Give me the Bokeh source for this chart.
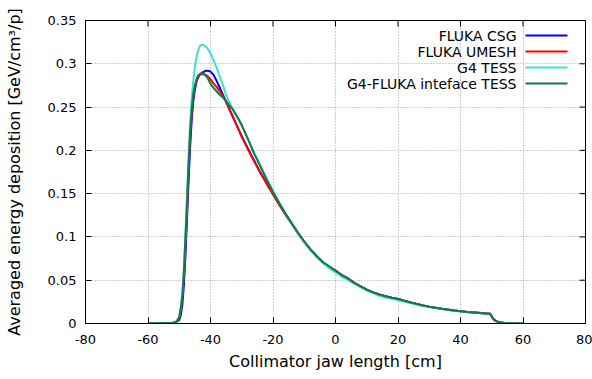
import math
from bokeh.plotting import figure
from bokeh.models import (Range1d, FixedTicker, Label, BoxAnnotation)
from bokeh.embed import file_html
from bokeh.resources import INLINE

# ---------------- data ----------------
x_cm = [-60, -55, -52, -51, -50.5,
        -50, -49.5, -49, -48.5, -48,
        -47.5, -47, -46.5, -46, -45.5,
        -45, -44.5, -44, -43.5, -43,
        -42.5, -42, -41.5, -41, -40,
        -39, -38, -37, -36, -35,
        -34, -33, -32, -31, -30,
        -28, -26, -24, -22, -20,
        -18, -16, -14, -12, -10,
        -8, -6, -4, -2, 0,
        2, 4, 6, 8, 10,
        12, 14, 16, 18, 20,
        22, 24, 26, 28, 30,
        32, 34, 36, 38, 40,
        42, 44, 46, 48, 49.5,
        50, 50.5, 51, 52, 53,
        54, 55, 56, 57, 58,
        60]

fluka_csg = [0, 0.0005, 0.001, 0.0015, 0.003,
             0.004, 0.010, 0.022, 0.045, 0.080,
             0.122, 0.166, 0.205, 0.236, 0.257,
             0.270, 0.279, 0.284, 0.287, 0.289,
             0.290, 0.291, 0.292, 0.292, 0.291,
             0.287, 0.280, 0.272, 0.264, 0.256,
             0.248, 0.240, 0.232, 0.224, 0.216,
             0.202, 0.188, 0.174, 0.162, 0.150,
             0.138, 0.126, 0.115, 0.104, 0.094,
             0.085, 0.077, 0.070, 0.065, 0.061,
             0.056, 0.052, 0.047, 0.043, 0.039,
             0.036, 0.0335, 0.0315, 0.0298, 0.0283,
             0.0263, 0.0244, 0.0226, 0.0209, 0.0195,
             0.0182, 0.0171, 0.0161, 0.0151, 0.0142,
             0.0135, 0.0129, 0.0123, 0.0117, 0.0113,
             0.0078, 0.0052, 0.0033, 0.0019, 0.0011,
             0.0006, 0.0004, 0.0002, 0.0001, 0,
             0]

fluka_umesh = [0, 0.0005, 0.001, 0.002, 0.0035,
               0.006, 0.016, 0.030, 0.055, 0.092,
               0.132, 0.178, 0.215, 0.243, 0.262,
               0.273, 0.280, 0.285, 0.287, 0.288,
               0.288, 0.288, 0.287, 0.286, 0.282,
               0.277, 0.273, 0.268, 0.263, 0.256,
               0.248, 0.240, 0.232, 0.224, 0.216,
               0.201, 0.187, 0.174, 0.161, 0.149,
               0.137, 0.126, 0.115, 0.104, 0.094,
               0.085, 0.077, 0.070, 0.065, 0.061,
               0.056, 0.052, 0.047, 0.043, 0.039,
               0.036, 0.0335, 0.0314, 0.0297, 0.0282,
               0.0262, 0.0243, 0.0225, 0.0208, 0.0194,
               0.0181, 0.0170, 0.0160, 0.0150, 0.0141,
               0.0134, 0.0128, 0.0122, 0.0116, 0.0112,
               0.0079, 0.0054, 0.0034, 0.0020, 0.0012,
               0.0007, 0.0004, 0.0002, 0.0001, 0,
               0]

g4_tess = [0, 0.0005, 0.001, 0.002, 0.0045,
           0.008, 0.020, 0.036, 0.066, 0.106,
           0.150, 0.196, 0.233, 0.260, 0.281,
           0.296, 0.307, 0.315, 0.320, 0.322,
           0.322, 0.321, 0.320, 0.318, 0.312,
           0.304, 0.295, 0.285, 0.275, 0.264,
           0.256, 0.249, 0.242, 0.236, 0.229,
           0.213, 0.197, 0.182, 0.167, 0.153,
           0.140, 0.127, 0.115, 0.104, 0.094,
           0.085, 0.077, 0.070, 0.064, 0.059,
           0.054, 0.050, 0.046, 0.042, 0.038,
           0.035, 0.032, 0.030, 0.0285, 0.0272,
           0.0254, 0.0236, 0.0219, 0.0203, 0.0190,
           0.0178, 0.0167, 0.0157, 0.0148, 0.0139,
           0.0132, 0.0126, 0.0120, 0.0114, 0.0110,
           0.0078, 0.0053, 0.0033, 0.0019, 0.0011,
           0.0006, 0.0004, 0.0002, 0.0001, 0,
           0]

g4_fluka_tess = [0, 0.0005, 0.001, 0.002, 0.004,
                 0.007, 0.018, 0.032, 0.060, 0.100,
                 0.140, 0.185, 0.222, 0.248, 0.265,
                 0.275, 0.282, 0.286, 0.288, 0.289,
                 0.289, 0.288, 0.286, 0.284, 0.277,
                 0.272, 0.268, 0.264, 0.261, 0.257,
                 0.252, 0.248, 0.242, 0.236, 0.229,
                 0.213, 0.196, 0.181, 0.166, 0.152,
                 0.139, 0.127, 0.116, 0.105, 0.095,
                 0.086, 0.078, 0.071, 0.066, 0.061,
                 0.056, 0.052, 0.047, 0.043, 0.039,
                 0.036, 0.0335, 0.0315, 0.0298, 0.0282,
                 0.0262, 0.0243, 0.0225, 0.0208, 0.0194,
                 0.0181, 0.0170, 0.0160, 0.0150, 0.0141,
                 0.0134, 0.0128, 0.0122, 0.0116, 0.0112,
                 0.0080, 0.0055, 0.0035, 0.0020, 0.0012,
                 0.0007, 0.0004, 0.0002, 0.0001, 0,
                 0]

series_names = ["FLUKA CSG", "FLUKA UMESH", "G4 TESS", "G4-FLUKA inteface TESS"]
series_values = [fluka_csg, fluka_umesh, g4_tess, g4_fluka_tess]
series_colors = ["#0000ff", "#ff0000", "#40e0d0", "#107a48"]

x_ticks = [-80, -60, -40, -20, 0, 20, 40, 60, 80]
x_tick_labels = ["-80", "-60", "-40", "-20", "0", "20", "40", "60", "80"]
y_ticks = [0, 0.05, 0.1, 0.15, 0.2, 0.25, 0.3, 0.35]
y_tick_labels = ["0", "0.05", "0.1", "0.15", "0.2", "0.25", "0.3", "0.35"]

X_MIN, X_MAX = -80, 80
Y_MIN, Y_MAX = 0, 0.35

FONT = "DejaVu Sans"

# ---------------- figure ----------------
p = figure(width=592, height=379, output_backend="svg", toolbar_location=None,
           x_range=Range1d(X_MIN, X_MAX), y_range=Range1d(Y_MIN, Y_MAX),
           min_border_left=85, min_border_right=7, min_border_top=20,
           min_border_bottom=56, x_axis_label="Collimator jaw length [cm]",
           y_axis_label="Averaged energy deposition [GeV/cm³/p]")
p.background_fill_color = "white"
p.border_fill_color = "white"
p.outline_line_color = "black"
p.outline_line_width = 1

for ax in (p.xaxis[0], p.yaxis[0]):
    ax.major_tick_in = 6
    ax.major_tick_out = 0
    ax.minor_tick_in = 0
    ax.minor_tick_out = 0
    ax.axis_line_color = "black"
    ax.major_tick_line_color = "black"
    ax.major_label_text_font = FONT
    ax.major_label_text_font_size = "13px"
    ax.major_label_text_color = "black"
    ax.axis_label_text_font = FONT
    ax.axis_label_text_font_size = "16px"
    ax.axis_label_text_font_style = "normal"
    ax.axis_label_text_color = "black"

p.xaxis.ticker = FixedTicker(ticks=x_ticks)
p.yaxis.ticker = FixedTicker(ticks=y_ticks)
p.xaxis.major_label_overrides = {t: s for t, s in zip(x_ticks, x_tick_labels)}
p.yaxis.major_label_overrides = {t: s for t, s in zip(y_ticks, y_tick_labels)}
p.xaxis.major_label_standoff = 11
p.xaxis.axis_label_standoff = 5
p.yaxis.major_label_standoff = 9
p.yaxis.axis_label_standoff = 21

for g in (p.xgrid[0], p.ygrid[0]):
    g.grid_line_color = "#a0a0a0"
    g.grid_line_dash = "1 2"
    g.grid_line_width = 1
p.xgrid.ticker = FixedTicker(ticks=x_ticks[1:-1])
p.ygrid.ticker = FixedTicker(ticks=y_ticks[1:-1])

# mirrored inward tick marks on the top and right frame edges (clipped to the frame)
p.scatter(x_ticks, [Y_MAX] * len(x_ticks), marker="dash", size=12, angle=math.pi / 2,
          line_color="black", line_width=1)
p.scatter([X_MAX] * len(y_ticks), y_ticks, marker="dash", size=12, angle=0,
          line_color="black", line_width=1)

for vals, col in zip(series_values, series_colors):
    p.line(x_cm, vals, line_color=col, line_width=2)

# legend (label on the left, sample line on the right), in screen units of the frame
row_y = [288, 272, 256, 240]
for name, col, yy in zip(series_names, series_colors, row_y):
    p.add_layout(Label(x=431, y=yy, x_units="screen", y_units="screen", text=name,
                       text_font=FONT, text_font_size="14px", text_align="right",
                       text_baseline="middle", text_color="black"))
    p.add_layout(BoxAnnotation(left=440, right=482, bottom=yy - 1, top=yy + 1,
                               left_units="screen", right_units="screen",
                               bottom_units="screen", top_units="screen",
                               fill_color=col, fill_alpha=1, line_color=None))

open("out.html", "w").write(file_html(p, INLINE))
